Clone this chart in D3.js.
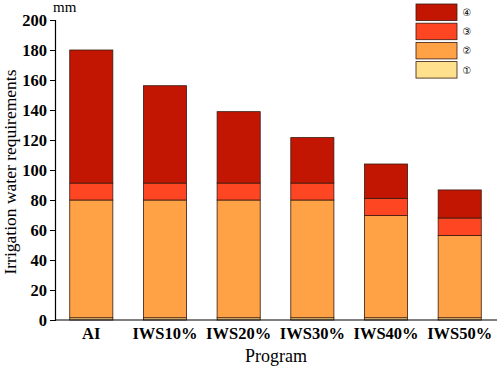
<!DOCTYPE html>
<html>
<head>
<meta charset="utf-8">
<script src="https://cdn.jsdelivr.net/npm/d3@7"></script>
<style>
  body { margin: 0; background: #fff; }
  svg { display: block; font-family: "Liberation Serif", "Times New Roman", serif; }
</style>
</head>
<body>
<svg id="chart"></svg>
<script>
var programs = ["AI", "IWS10%", "IWS20%", "IWS30%", "IWS40%", "IWS50%"];
var keys = ["s1", "s2", "s3", "s4"];
var legendLabels = ["\u2460", "\u2461", "\u2462", "\u2463"];
var s1 = [1.5, 1.5, 1.5, 1.5, 1.5, 1.5];
var s2 = [78.5, 78.5, 78.5, 78.5, 68.1, 54.9];
var s3 = [11.3, 11.3, 11.3, 11.3, 11.5, 11.6];
var s4 = [88.7, 64.9, 47.6, 30.3, 22.9, 18.7];
var yTicks = [0, 20, 40, 60, 80, 100, 120, 140, 160, 180, 200];
var colors = ["#ffe08c", "#ffa245", "#ff4622", "#c21602"];

var dimensions = {
    width: 498,
    height: 368,
    margin: { top: 20, right: 2, bottom: 48, left: 55 }
};

var svg = d3.select("#chart")
    .attr("width", dimensions.width)
    .attr("height", dimensions.height);

var table = programs.map((p, i) => ({ program: p, s1: s1[i], s2: s2[i], s3: s3[i], s4: s4[i] }));
var stacked = d3.stack().keys(keys)(table);

var xScale = d3.scaleBand()
    .domain(programs)
    .range([dimensions.margin.left, 496])
    .paddingInner(0.415)
    .paddingOuter(0.2);

var yScale = d3.scaleLinear()
    .domain([0, 200])
    .range([dimensions.height - dimensions.margin.bottom, dimensions.margin.top]);

// bars
svg.append("g")
    .selectAll("g")
    .data(stacked)
    .enter()
    .append("g")
    .attr("fill", (d, i) => colors[i])
    .selectAll("rect")
    .data(d => d)
    .enter()
    .append("rect")
    .attr("x", d => xScale(d.data.program))
    .attr("y", d => yScale(d[1]))
    .attr("width", xScale.bandwidth())
    .attr("height", d => yScale(d[0]) - yScale(d[1]))
    .attr("stroke", "#3a1a10")
    .attr("stroke-width", 0.8);

// y axis
var yAxis = svg.append("g")
    .attr("transform", `translate(${dimensions.margin.left},0)`)
    .call(d3.axisLeft(yScale).tickValues(yTicks).tickSize(5).tickPadding(3));
yAxis.select(".domain").attr("stroke", "#000").attr("stroke-width", 1.2);
yAxis.selectAll("text")
    .style("font-family", "Liberation Serif")
    .style("font-size", "16.5px")
    .style("font-weight", "bold")
    .attr("fill", "#000");

// x axis
var xAxis = svg.append("g")
    .attr("transform", `translate(0,${yScale(0)})`)
    .call(d3.axisBottom(xScale).tickSize(0).tickPadding(7));
xAxis.select(".domain").attr("d", `M${dimensions.margin.left},0H497`).attr("stroke", "#000").attr("stroke-width", 1.2);
xAxis.selectAll("text")
    .style("font-family", "Liberation Serif")
    .style("font-size", "16.5px")
    .style("font-weight", "bold")
    .attr("fill", "#000");

// titles
svg.append("text")
    .attr("x", 276)
    .attr("y", 362)
    .style("text-anchor", "middle")
    .style("font-size", "18px")
    .text("Program");

svg.append("text")
    .attr("transform", "translate(16," + 172 + ")rotate(-90)")
    .style("text-anchor", "middle")
    .style("font-size", "17.5px")
    .text("Irrigation water requirements");

svg.append("text")
    .attr("x", 53)
    .attr("y", 12)
    .style("font-size", "15px")
    .text("mm");

// legend, top entry is ④
var legend = svg.append("g");
var order = [3, 2, 1, 0];
order.forEach((k, j) => {
    legend.append("rect")
        .attr("x", 416)
        .attr("y", 4 + j * 19.2)
        .attr("width", 41)
        .attr("height", 16.5)
        .attr("fill", colors[k])
        .attr("stroke", "#3a1a10")
        .attr("stroke-width", 0.8);
    legend.append("text")
        .attr("x", 467)
        .attr("y", 12.5 + j * 19.2)
        .attr("dy", "0.35em")
        .style("text-anchor", "middle")
        .style("font-family", "DejaVu Sans")
        .style("font-size", "10px")
        .text(legendLabels[k]);
});
</script>
</body>
</html>
